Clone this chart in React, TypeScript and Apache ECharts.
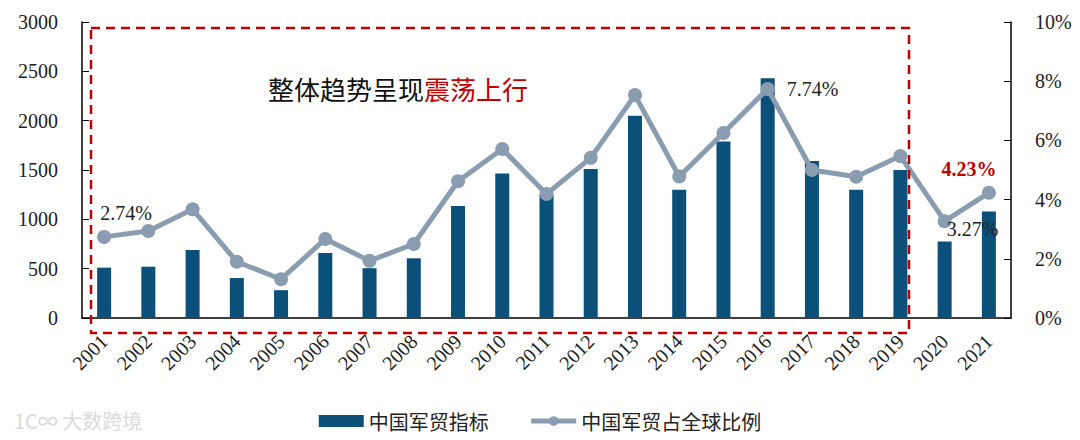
import React, { useEffect, useRef } from "react";
import * as echarts from "echarts";

const years = ["2001","2002","2003","2004","2005","2006","2007","2008","2009","2010","2011","2012","2013","2014","2015","2016","2017","2018","2019","2020","2021"];
const tradeIndex = [510, 520, 690, 405, 282, 660, 505, 605, 1135, 1465, 1255, 1510, 2050, 1300, 1790, 2430, 1590, 1300, 1500, 775, 1080];
const globalShare = [2.74, 2.94, 3.67, 1.90, 1.31, 2.67, 1.93, 2.50, 4.62, 5.71, 4.19, 5.41, 7.53, 4.78, 6.25, 7.74, 5.00, 4.77, 5.47, 3.27, 4.23];
const leftTicks = [0, 3000, 500];
const rightTicks = [0, 10, 2];
const seriesNames = ["中国军贸指标", "中国军贸占全球比例"];
const labelledYears = ["2001", "2016", "2020", "2021"];

const SERIF = "'Liberation Serif', 'DejaVu Serif', 'Noto Sans CJK SC', serif";
const CJK = "'Noto Sans CJK SC', 'Liberation Serif', serif";

export default function App() {
  const ref = useRef<HTMLDivElement>(null);
  useEffect(() => {
    document.body.style.margin = "0";
    const chart = echarts.init(ref.current!, undefined, { renderer: "svg" });
    const labelCfg: Record<string, any> = {
      "2001": { position: "top", offset: [22, -2], color: "#222" },
      "2016": { position: "right", distance: 12, color: "#222" },
      "2020": { position: "bottom", offset: [28, -14], color: "#222" },
      "2021": { position: "top", offset: [-20, -2], color: "#c00000", fontWeight: "bold" },
    };
    const lineData = globalShare.map((v, i) => {
      const y = years[i];
      if (labelledYears.includes(y)) {
        return {
          value: v,
          label: {
            show: true,
            fontFamily: SERIF,
            fontSize: 20,
            formatter: (p: any) => p.value.toFixed(2) + "%",
            ...labelCfg[y],
          },
        };
      }
      return v;
    });
    chart.setOption({
      animation: false,
      grid: { left: 82, right: 69, top: 22, bottom: 122 },
      legend: {
        bottom: 4,
        left: "center",
        itemGap: 40,
        itemWidth: 45,
        itemHeight: 12,
        textStyle: { fontFamily: CJK, fontSize: 20, color: "#222" },
        data: [
          { name: seriesNames[0], icon: "rect" },
          { name: seriesNames[1], lineStyle: { width: 5, color: "#8a9db0" }, itemStyle: { color: "#8a9db0" } },
        ],
      },
      xAxis: {
        type: "category",
        data: years,
        axisLine: { lineStyle: { color: "#000", width: 1.5 } },
        axisTick: { show: false },
        axisLabel: {
          rotate: 45,
          fontFamily: SERIF,
          fontSize: 20,
          color: "#222",
          margin: 20,
          interval: 0,
        },
      },
      yAxis: [
        {
          type: "value",
          min: leftTicks[0],
          max: leftTicks[1],
          interval: leftTicks[2],
          splitLine: { show: false },
          axisLine: { show: true, lineStyle: { color: "#000", width: 1.5 } },
          axisTick: { show: true, inside: true, length: 7, lineStyle: { color: "#000" } },
          axisLabel: { fontFamily: SERIF, fontSize: 20, color: "#222", margin: 24, formatter: (v: number) => String(v) },
        },
        {
          type: "value",
          min: rightTicks[0],
          max: rightTicks[1],
          interval: rightTicks[2],
          splitLine: { show: false },
          axisLine: { show: true, lineStyle: { color: "#000", width: 1.5 } },
          axisTick: { show: true, inside: true, length: 7, lineStyle: { color: "#000" } },
          axisLabel: { fontFamily: SERIF, fontSize: 20, color: "#222", margin: 24, formatter: "{value}%" },
        },
      ],
      series: [
        {
          name: seriesNames[0],
          type: "bar",
          data: tradeIndex,
          barWidth: 14,
          itemStyle: { color: "#0b5078" },
          yAxisIndex: 0,
        },
        {
          name: seriesNames[1],
          type: "line",
          data: lineData,
          yAxisIndex: 1,
          symbol: "circle",
          symbolSize: 14,
          lineStyle: { color: "#8a9db0", width: 5 },
          itemStyle: { color: "#8a9db0" },
          z: 3,
        },
      ],
      graphic: [
        {
          type: "rect",
          shape: { x: 91, y: 28, width: 818, height: 305 },
          style: { fill: "none", stroke: "#c00000", lineWidth: 2.5, lineDash: [9, 6] },
          z: 10,
        },
        {
          type: "text",
          left: 268,
          top: 75,
          style: {
            text: "{a|整体趋势呈现}{b|震荡上行}",
            rich: {
              a: { fontFamily: CJK, fontSize: 26, fill: "#111" },
              b: { fontFamily: CJK, fontSize: 26, fill: "#c00000" },
            },
          },
          z: 10,
        },
        {
          type: "text",
          left: 14,
          top: 410,
          style: {
            text: "1C∞ 大数跨境",
            fontFamily: CJK,
            fontSize: 20,
            fill: "#dadada",
          },
        },
      ],
    });
    return () => chart.dispose();
  }, []);
  return <div ref={ref} style={{ width: 1080, height: 440 }} />;
}
